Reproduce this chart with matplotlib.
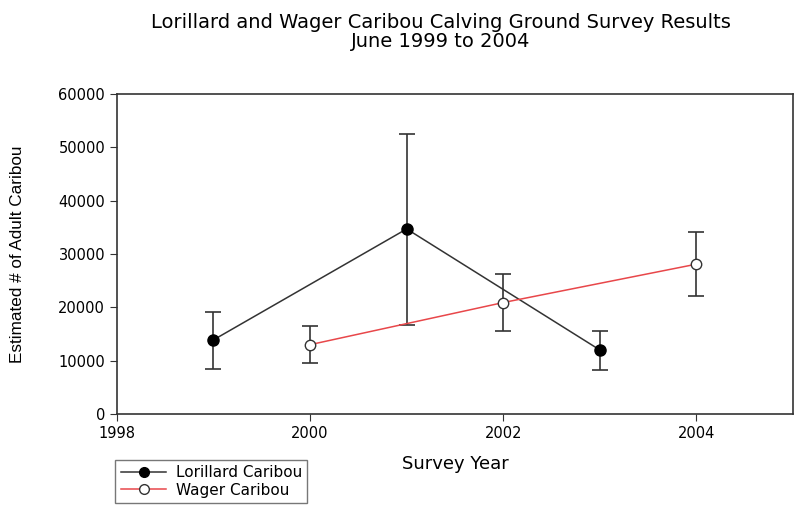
import matplotlib.pyplot as plt
from matplotlib.lines import Line2D
import numpy as np

plt.rcParams['font.family'] = ['DejaVu Sans']

# Lorillard herd
lor_years = [1999, 2001, 2003]
lor_est = [13900, 34700, 12000]
lor_hi = [19200, 52500, 15600]
lor_lo = [8500, 16600, 8300]

# Wager herd
wag_years = [2000, 2002, 2004]
wag_est = [13000, 20900, 28100]
wag_hi = [16500, 26200, 34100]
wag_lo = [9500, 15500, 22100]

fig = plt.figure(figsize=(8.06, 5.08), dpi=100)
ax = fig.add_axes([0.145, 0.185, 0.839, 0.630])

lor_err = [np.array(lor_est) - np.array(lor_lo), np.array(lor_hi) - np.array(lor_est)]
wag_err = [np.array(wag_est) - np.array(wag_lo), np.array(wag_hi) - np.array(wag_est)]

ax.errorbar(lor_years, lor_est, yerr=lor_err, color='#333333', lw=1.1,
            marker='o', ms=8, mfc='black', mec='black', capsize=5.5,
            ecolor='#333333', elinewidth=1.2, capthick=1.2, zorder=3)
ax.errorbar(wag_years, wag_est, yerr=wag_err, color='#e8474a', lw=1.1,
            marker='o', ms=7.5, mfc='white', mec='#333333', capsize=5.5,
            ecolor='#333333', elinewidth=1.2, capthick=1.2, zorder=3)

ax.set_xlim(1998, 2005)
ax.set_ylim(0, 60000)
ax.set_xticks([1998, 2000, 2002, 2004])
ax.set_yticks(range(0, 60001, 10000))
ax.tick_params(direction='out', length=5, labelsize=10.5, top=False, right=False,
               color='#333333')
for s in ax.spines.values():
    s.set_color('#333333')
    s.set_linewidth(1.2)

ax.set_xlabel('Survey Year', fontsize=13)
ax.xaxis.set_label_coords(0.5, -0.128)
ax.set_ylabel('Estimated # of Adult Caribou', fontsize=12.3, family='Liberation Sans')
ax.yaxis.set_label_coords(-0.136, 0.5)

fig.text(0.547, 0.975, 'Lorillard and Wager Caribou Calving Ground Survey Results\nJune 1999 to 2004',
         ha='center', va='top', fontsize=14, linespacing=1.0)

handles = [Line2D([], [], color='#333333', lw=1.1, marker='o', ms=7, mfc='black', mec='black'),
           Line2D([], [], color='#e8474a', lw=1.1, marker='o', ms=7, mfc='white', mec='#333333')]
leg = ax.legend(handles, ['Lorillard Caribou', 'Wager Caribou'],
                loc='upper left', bbox_to_anchor=(0.143, 0.0945), bbox_transform=fig.transFigure,
                frameon=True, fancybox=False, edgecolor='#555555', fontsize=11,
                handlelength=3.0, borderpad=0.35, labelspacing=0.15, handletextpad=0.6,
                borderaxespad=0)
leg.get_frame().set_linewidth(1.0)

fig.savefig('out.png', dpi=100)
